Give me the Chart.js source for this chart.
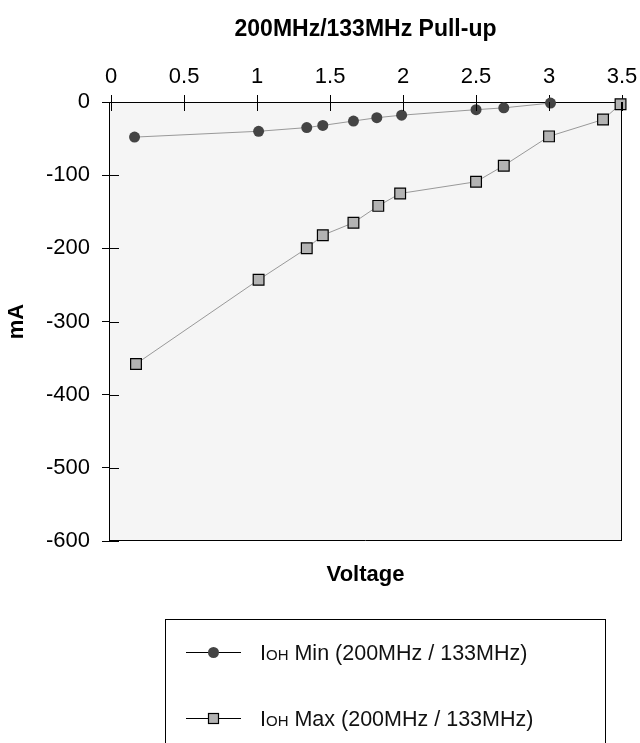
<!DOCTYPE html>
<html>
<head>
<meta charset="utf-8">
<script src="https://cdn.jsdelivr.net/npm/chart.js@4.4.1/dist/chart.umd.min.js"></script>
<style>
html, body { margin: 0; padding: 0; background: #fff; }
</style>
</head>
<body>
<canvas id="chart" width="640" height="743"></canvas>
<script>
// данные
const voltMin = [0.16, 1.01, 1.34, 1.45, 1.66, 1.82, 1.99, 2.50, 2.69, 3.01];
const currMin = [-48, -40, -35, -32, -26, -21.5, -18, -10.5, -8, -1.5];
const voltMax = [0.17, 1.01, 1.34, 1.45, 1.66, 1.83, 1.98, 2.50, 2.69, 3.00, 3.37, 3.49];
const currMax = [-358, -243, -200, -182, -165, -142, -125, -109, -87, -47, -24, -3];
const seriesNames = ['IOH Min (200MHz / 133MHz)', 'IOH Max (200MHz / 133MHz)'];
const xTicks = [0, 0.5, 1, 1.5, 2, 2.5, 3, 3.5];
const yTicks = [0, -100, -200, -300, -400, -500, -600];

const FONT = '"Liberation Sans", Arial, sans-serif';

function toPoints(xs, ys) {
    return xs.map((v, i) => ({ x: v, y: ys[i] }));
}

// фон области, рамка и внутренние части засечек
const frame = {
    id: 'frame',
    beforeDraw(chart) {
        const { ctx, chartArea: a } = chart;
        ctx.save();
        ctx.fillStyle = '#f5f5f5';
        ctx.fillRect(a.left, a.top, a.right - a.left, a.bottom - a.top);
        ctx.restore();
    },
    afterDraw(chart) {
        const { ctx, chartArea: a, scales: { x, y } } = chart;
        ctx.save();
        ctx.strokeStyle = '#000';
        ctx.lineWidth = 1;
        ctx.beginPath();
        ctx.moveTo(Math.round(a.right) - 0.5, a.top);
        ctx.lineTo(Math.round(a.right) - 0.5, a.bottom);
        ctx.moveTo(a.left, Math.round(a.bottom) - 0.5);
        ctx.lineTo(a.right, Math.round(a.bottom) - 0.5);
        xTicks.forEach(v => {
            const px = Math.round(x.getPixelForValue(v)) + 0.5;
            ctx.moveTo(px, a.top);
            ctx.lineTo(px, a.top + 9);
        });
        yTicks.forEach(v => {
            const py = Math.round(y.getPixelForValue(v)) + 0.5;
            ctx.moveTo(a.left, py);
            ctx.lineTo(a.left + 10, py);
        });
        ctx.stroke();
        ctx.restore();
    }
};

// легенда в рамке внизу
const legendBox = {
    id: 'legendBox',
    afterDraw(chart) {
        const ctx = chart.ctx;
        ctx.save();
        ctx.strokeStyle = '#000';
        ctx.lineWidth = 1;
        ctx.strokeRect(165.5, 619.5, 440, 160);
        chart.data.datasets.forEach((ds, i) => {
            const cy = 652 + i * 66;
            ctx.strokeStyle = '#000';
            ctx.lineWidth = 1;
            ctx.beginPath();
            ctx.moveTo(186, cy + 0.5);
            ctx.lineTo(241, cy + 0.5);
            ctx.stroke();
            ctx.fillStyle = ds.pointBackgroundColor;
            if (ds.pointStyle === 'rect') {
                ctx.fillRect(208.5, cy - 4.5, 10, 10);
                ctx.lineWidth = 1.2;
                ctx.strokeRect(208.5, cy - 4.5, 10, 10);
            } else {
                ctx.beginPath();
                ctx.arc(213.5, cy + 0.5, 5.5, 0, Math.PI * 2);
                ctx.fill();
            }
            const label = ds.label;
            const base = cy + 8;
            let tx = 260;
            ctx.fillStyle = '#111';
            ctx.textBaseline = 'alphabetic';
            ctx.font = '21.5px ' + FONT;
            ctx.fillText(label.slice(0, 1), tx, base);
            tx += ctx.measureText(label.slice(0, 1)).width;
            ctx.font = '15px ' + FONT;
            ctx.fillText(label.slice(1, 3), tx, base);
            tx += ctx.measureText(label.slice(1, 3)).width;
            ctx.font = '21.5px ' + FONT;
            ctx.fillText(label.slice(3), tx, base);
        });
        ctx.restore();
    }
};

const chart = new Chart(document.getElementById('chart').getContext('2d'), {
    type: 'line',
    data: {
        datasets: [{
            label: seriesNames[0],
            data: toPoints(voltMin, currMin),
            clip: false,
            borderColor: '#999',
            borderWidth: 1,
            pointStyle: 'circle',
            pointRadius: 5.5,
            pointBackgroundColor: '#444',
            pointBorderColor: '#444',
            pointBorderWidth: 0
        }, {
            label: seriesNames[1],
            data: toPoints(voltMax, currMax),
            clip: false,
            borderColor: '#999',
            borderWidth: 1,
            pointStyle: 'rect',
            pointRadius: 7.6,
            pointBackgroundColor: '#b3b3b3',
            pointBorderColor: '#000',
            pointBorderWidth: 1.2
        }]
    },
    options: {
        responsive: false,
        animation: false,
        layout: { padding: { left: 0, right: 18, top: 0, bottom: 154.6 } },
        plugins: {
            legend: { display: false },
            tooltip: { enabled: false },
            title: {
                display: true,
                text: '200MHz/133MHz Pull-up',
                fullSize: false,
                color: '#000',
                font: { family: FONT, size: 23, weight: 'bold' },
                padding: { top: 16, bottom: 0 }
            },
            subtitle: {
                display: true,
                text: 'Voltage',
                position: 'bottom',
                fullSize: false,
                color: '#000',
                font: { family: FONT, size: 22, weight: 'bold' },
                padding: { top: 21, bottom: 0 }
            }
        },
        scales: {
            x: {
                type: 'linear',
                position: 'top',
                min: -0.015,
                max: 3.5,
                afterBuildTicks: s => { s.ticks = xTicks.map(v => ({ value: v })); },
                afterFit: s => { s.height = 102 - 43.6; s.paddingLeft = 0; s.paddingRight = 0; },
                grid: { drawOnChartArea: false, drawTicks: true, tickLength: 7, color: '#000' },
                border: { display: true, color: '#000', width: 1 },
                ticks: {
                    color: '#000', padding: 5, font: { family: FONT, size: 22 },
                    callback: v => String(v)
                }
            },
            y: {
                type: 'linear',
                min: -600,
                max: 0,
                afterBuildTicks: s => { s.ticks = yTicks.map(v => ({ value: v })); },
                afterFit: s => { s.width = 109; s.paddingTop = 0; s.paddingBottom = 0; },
                grid: { drawOnChartArea: false, drawTicks: true, tickLength: 7, color: '#000' },
                border: { display: true, color: '#000', width: 1 },
                ticks: { color: '#000', padding: 12, font: { family: FONT, size: 22 } },
                title: {
                    display: true,
                    text: 'mA',
                    color: '#000',
                    padding: { top: 4, bottom: 0 },
                    font: { family: FONT, size: 22, weight: 'bold' }
                }
            }
        }
    },
    plugins: [frame, legendBox]
});
</script>
</body>
</html>
